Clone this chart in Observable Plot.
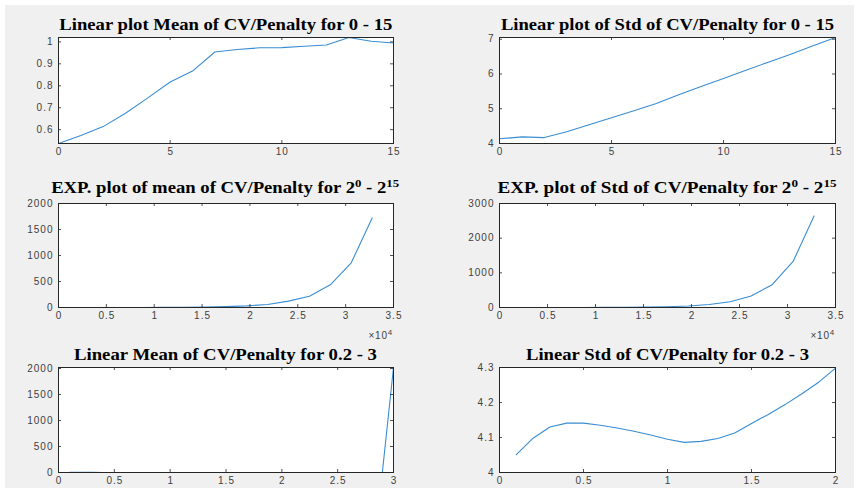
<!DOCTYPE html>
<html><head><meta charset="utf-8">
<script src="https://cdn.jsdelivr.net/npm/d3@7"></script>
<script src="https://cdn.jsdelivr.net/npm/@observablehq/plot@0.6"></script>
<style>
body{margin:0;background:#fff;}
#fig{position:relative;width:859px;height:499px;overflow:hidden;background:#fff}
#bg{position:absolute;left:5px;top:5px;width:849px;height:483px;background:#f0f0f0}
.title{position:absolute;font-family:"Liberation Serif","Times New Roman",serif;font-weight:bold;font-size:16px;color:#000;text-align:center;white-space:nowrap;line-height:1}
.title span{display:inline-block;transform-origin:50% 50%}
.title sup{font-size:11px;vertical-align:0;position:relative;top:-6px}
.exp{position:absolute;font-family:"Liberation Sans",Arial,sans-serif;font-size:10px;letter-spacing:0.8px;color:#404040;white-space:nowrap;text-align:right;line-height:1}
.exp sup{font-size:8px;vertical-align:0;position:relative;top:-4px}
.panel{position:absolute}
svg text{letter-spacing:1px}
</style></head><body><div id="fig"><div id="bg"></div></div>
<script>
// ---- data ----
const linX015 = [0,1,2,3,4,5,6,7,8,9,10,11,12,13,14,15];
const meanLin015 = [0.537,0.573,0.614,0.675,0.745,0.817,0.867,0.954,0.965,0.973,0.974,0.980,0.986,1.020,1.003,0.995];
const stdLin015 = [4.135,4.19,4.17,4.34,4.54,4.74,4.94,5.15,5.40,5.64,5.87,6.11,6.34,6.57,6.81,7.05];

const expX = [1,2185,4370,6554,8739,10923,13108,15292,17477,19661,21846,24030,26215,28399,30584,32768];
const meanExp = [0.06,0.1,0.3,0.5,1,2,4,8,16,32,58,122,218,436,859,1720];
const stdExp = [0.1,0.2,0.35,0.7,1.4,2.8,5.5,11,22,43,85,168,334,659,1328,2640];

const smallX = [0.1,0.2,0.3,0.4,0.5,0.6,0.7,0.8,0.9,1.0,1.1,1.2,1.3,1.4,1.5,1.6,1.7,1.8,1.9,2.0,2.1,2.2,2.3,2.4,2.5,2.6,2.7,2.8,2.9,3.0];
const meanSmall = [5.1,2.6,1.8,1.4,1.1,0.95,0.83,0.74,0.68,0.62,0.58,0.55,0.52,0.5,0.48,0.47,0.46,0.45,0.44,0.44,0.43,0.43,0.42,0.42,0.42,0.41,0.41,0.41,0.41,2020];
const stdSmallX = [0.1,0.2,0.3,0.4,0.5,0.6,0.7,0.8,0.9,1.0,1.1,1.2,1.3,1.4,1.5,1.6,1.7,1.8,1.9,2.0];
const stdSmall = [4.051,4.098,4.130,4.141,4.141,4.135,4.127,4.118,4.107,4.095,4.086,4.089,4.097,4.113,4.140,4.166,4.194,4.225,4.258,4.298];

// tick labels
const ticks015 = [0,5,10,15];
const ticksMeanLinY = [0.6,0.7,0.8,0.9,1];
const ticksStdLinY = [4,5,6,7];
const ticksExpX = [0,5000,10000,15000,20000,25000,30000,35000];
const ticksMeanExpY = [0,500,1000,1500,2000];
const ticksStdExpY = [0,1000,2000,3000];
const ticksSmallX = [0,0.5,1,1.5,2,2.5,3];
const ticksSmallMeanY = [0,500,1000,1500,2000];
const ticksStdSmallX = [0,0.5,1,1.5,2];
const ticksStdSmallY = [4,4.1,4.2,4.3];

const fig = document.getElementById("fig");
const LINE = "#3a8dd3", AX = "#262626", TXT = "#404040";

function panel(o){
  const ml=44, mr=14, mt=4, mb=22;
  const W=o.w, H=o.h;
  const data = o.x.map((x,i)=>({x, y:o.y[i]}));
  const chart = Plot.plot({
    width: W+ml+mr, height: H+mt+mb,
    marginLeft: ml, marginRight: mr, marginTop: mt, marginBottom: mb,
    x: {domain: o.xDomain, label: null},
    y: {domain: o.yDomain, label: null},
    style: {fontFamily: "'Liberation Sans', Arial, sans-serif", fontSize: "10px", color: TXT, background: "transparent", overflow: "visible"},
    marks: [
      Plot.frame({fill: "white", stroke: null}),
      Plot.line(data, {x: "x", y: "y", stroke: LINE, strokeWidth: 1.1}),
      Plot.ruleX(o.xTicks, {x: d=>d, insetTop: H-3, stroke: AX, strokeWidth: 0.8}),
      Plot.ruleX(o.xTicks, {x: d=>d, insetBottom: H-3, stroke: AX, strokeWidth: 0.8}),
      Plot.ruleY(o.yTicks, {y: d=>d, insetRight: W-3, stroke: AX, strokeWidth: 0.8}),
      Plot.ruleY(o.yTicks, {y: d=>d, insetLeft: W-3, stroke: AX, strokeWidth: 0.8}),
      Plot.axisX({ticks: o.xTicks, tickSize: 0, tickPadding: 4, label: null, tickFormat: o.xFmt || (d=>String(d)), fill: TXT, dx: 0.5}),
      Plot.axisY({ticks: o.yTicks, tickSize: 0, tickPadding: 5, label: null, tickFormat: o.yFmt || (d=>String(d)), fill: TXT}),
      Plot.frame({stroke: AX, strokeWidth: 1})
    ]
  });
  const wrap = document.createElement("div");
  wrap.className = "panel";
  wrap.style.left = (o.left-ml)+"px";
  wrap.style.top = (o.top-mt)+"px";
  wrap.appendChild(chart);
  fig.appendChild(wrap);
  const t = document.createElement("div");
  t.className = "title";
  t.style.left = (o.left-40)+"px"; t.style.width = (W+80)+"px"; t.style.top = o.titleTop+"px";
  const s = document.createElement("span");
  s.innerHTML = o.title;
  t.appendChild(s);
  fig.appendChild(t);
  const w0 = s.getBoundingClientRect().width;
  s.style.transform = "scaleX(" + (o.titleW / w0) + ")";
  if (o.exp) {
    const e = document.createElement("div");
    e.className = "exp";
    e.style.left = (o.left+W-60)+"px"; e.style.width = "60px"; e.style.top = (o.top+H+24)+"px";
    e.innerHTML = "&times;10<sup>4</sup>";
    fig.appendChild(e);
  }
}

const L = 58, LW = 335, R = 499, RW = 336;
panel({left:L, top:37, w:LW, h:106, titleTop:17, titleW:333, x:linX015, y:meanLin015, xDomain:[0,15], yDomain:[0.537,1.02], xTicks:ticks015, yTicks:ticksMeanLinY, title:"Linear plot Mean of CV/Penalty for 0 - 15"});
panel({left:R, top:37, w:RW, h:106, titleTop:17, titleW:333, x:linX015, y:stdLin015, xDomain:[0,15], yDomain:[4,7.05], xTicks:ticks015, yTicks:ticksStdLinY, title:"Linear plot of Std of CV/Penalty for 0 - 15"});
panel({left:L, top:203, w:LW, h:104, titleTop:180, titleW:348, x:expX, y:meanExp, xDomain:[0,35000], yDomain:[0,2000], xTicks:ticksExpX, yTicks:ticksMeanExpY, xFmt:d=>String(d/1e4), exp:true, title:"EXP. plot of mean of CV/Penalty for 2<sup>0</sup> - 2<sup>15</sup>"});
panel({left:R, top:203, w:RW, h:104, titleTop:180, titleW:339, x:expX, y:stdExp, xDomain:[0,35000], yDomain:[0,3000], xTicks:ticksExpX, yTicks:ticksStdExpY, xFmt:d=>String(d/1e4), exp:true, title:"EXP. plot of Std of CV/Penalty for 2<sup>0</sup> - 2<sup>15</sup>"});
panel({left:L, top:367, w:LW, h:105, titleTop:347, titleW:303, x:smallX, y:meanSmall, xDomain:[0,3], yDomain:[0,2020], xTicks:ticksSmallX, yTicks:ticksSmallMeanY, title:"Linear Mean of CV/Penalty for 0.2 - 3"});
panel({left:R, top:367, w:RW, h:105, titleTop:347, titleW:283, x:stdSmallX, y:stdSmall, xDomain:[0,2], yDomain:[4,4.3], xTicks:ticksStdSmallX, yTicks:ticksStdSmallY, title:"Linear Std of CV/Penalty for 0.2 - 3"});
</script></body></html>
